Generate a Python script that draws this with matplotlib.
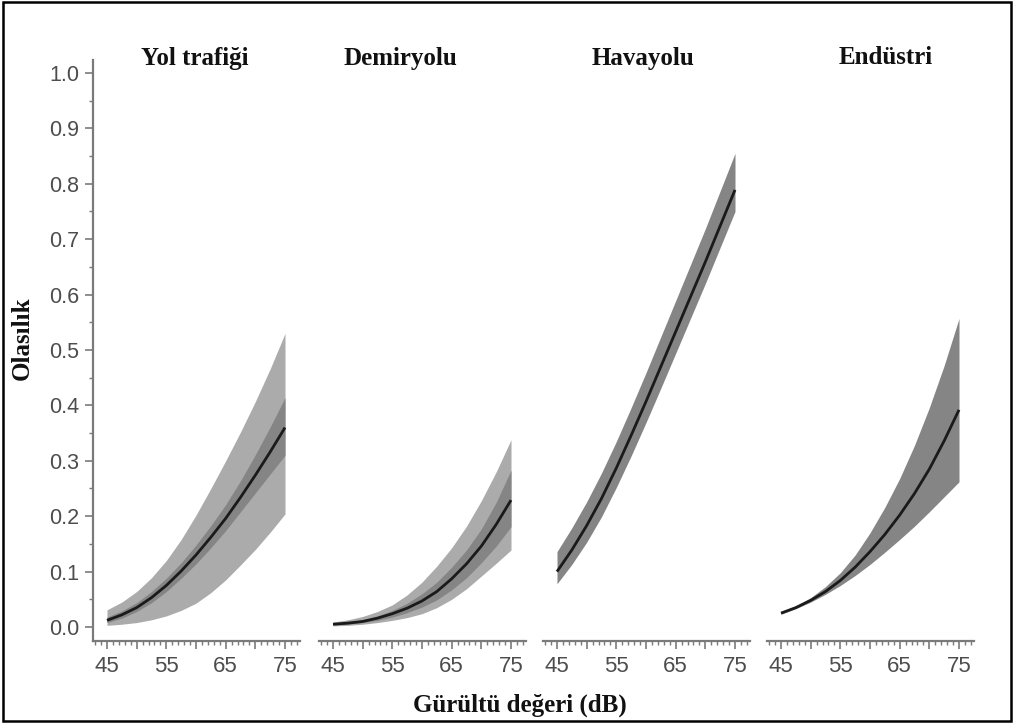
import matplotlib
matplotlib.use("Agg")
import matplotlib.pyplot as plt
from matplotlib.patches import Rectangle
from matplotlib.ticker import MultipleLocator, FixedLocator, FixedFormatter

# ---------------- data ----------------
titles = ["Yol trafiği", "Demiryolu", "Havayolu", "Endüstri"]
noise_db = [45, 47.5, 50, 52.5, 55, 57.5, 60, 62.5, 65, 67.5, 70, 72.5, 75]

# Yol trafiği
road_mean = [0.012, 0.022, 0.035, 0.053, 0.075, 0.101, 0.130, 0.162, 0.196, 0.234, 0.274, 0.316, 0.360]
road_in_lo = [0.008, 0.016, 0.028, 0.044, 0.064, 0.088, 0.114, 0.143, 0.174, 0.208, 0.242, 0.276, 0.310]
road_in_hi = [0.018, 0.029, 0.044, 0.064, 0.088, 0.116, 0.148, 0.183, 0.221, 0.264, 0.311, 0.361, 0.414]
road_out_lo = [0.003, 0.005, 0.008, 0.013, 0.020, 0.030, 0.043, 0.062, 0.085, 0.112, 0.140, 0.171, 0.204]
road_out_hi = [0.031, 0.045, 0.064, 0.089, 0.120, 0.158, 0.202, 0.250, 0.300, 0.352, 0.407, 0.466, 0.530]

# Demiryolu
rail_mean = [0.005, 0.007, 0.010, 0.016, 0.024, 0.034, 0.047, 0.064, 0.087, 0.114, 0.146, 0.185, 0.229]
rail_in_lo = [0.004, 0.005, 0.008, 0.012, 0.018, 0.026, 0.036, 0.049, 0.067, 0.089, 0.116, 0.146, 0.181]
rail_in_hi = [0.006, 0.009, 0.013, 0.020, 0.030, 0.043, 0.060, 0.081, 0.108, 0.139, 0.177, 0.225, 0.283]
rail_out_lo = [0.002, 0.003, 0.005, 0.008, 0.012, 0.017, 0.024, 0.035, 0.050, 0.069, 0.092, 0.115, 0.139]
rail_out_hi = [0.009, 0.013, 0.019, 0.028, 0.040, 0.058, 0.081, 0.110, 0.143, 0.182, 0.228, 0.280, 0.338]

# Havayolu
air_mean = [0.100, 0.139, 0.183, 0.232, 0.287, 0.346, 0.407, 0.470, 0.533, 0.596, 0.659, 0.724, 0.789]
air_lo = [0.078, 0.113, 0.153, 0.199, 0.252, 0.309, 0.369, 0.431, 0.494, 0.557, 0.620, 0.685, 0.750]
air_hi = [0.136, 0.179, 0.226, 0.278, 0.335, 0.396, 0.459, 0.524, 0.589, 0.654, 0.719, 0.787, 0.855]

# Endüstri
ind_mean = [0.025, 0.035, 0.048, 0.064, 0.084, 0.108, 0.136, 0.167, 0.202, 0.241, 0.285, 0.336, 0.392]
ind_lo = [0.023, 0.033, 0.045, 0.059, 0.075, 0.093, 0.113, 0.135, 0.158, 0.182, 0.208, 0.235, 0.262]
ind_hi = [0.027, 0.038, 0.053, 0.073, 0.098, 0.130, 0.170, 0.216, 0.268, 0.328, 0.396, 0.472, 0.557]

y_ticks = [0.0, 0.1, 0.2, 0.3, 0.4, 0.5, 0.6, 0.7, 0.8, 0.9, 1.0]
x_major = [45, 50, 55, 60, 65, 70, 75]
x_labels = ["45", "", "55", "", "65", "", "75"]

# ---------------- styling ----------------
W, H = 1020, 724
fig = plt.figure(figsize=(W / 100, H / 100), dpi=100)
fig.patch.set_facecolor("white")

AX_GRAY = "#7a7a7a"
TXT_GRAY = "#4d4d4d"
LIGHT = "#ababab"
DARK = "#858585"
SERIF = ["Liberation Serif", "DejaVu Serif"]
SANS = ["Liberation Sans", "DejaVu Sans"]

lefts_px = [93, 319, 543, 767]
ax_w_px = 207
top_px, bot_px = 60, 641
y0_px = 627  # pixel of y = 0
px_per_unit = 554.0
ylim_lo = -(bot_px - y0_px) / px_per_unit
ylim_hi = (y0_px - top_px) / px_per_unit
px_per_db = 178.0 / 30.0
xlim_lo = 45 - 14 / px_per_db
xlim_hi = 75 + 15 / px_per_db

panels = [
    dict(mean=road_mean, outer=(road_out_lo, road_out_hi), inner=(road_in_lo, road_in_hi)),
    dict(mean=rail_mean, outer=(rail_out_lo, rail_out_hi), inner=(rail_in_lo, rail_in_hi)),
    dict(mean=air_mean, outer=None, inner=(air_lo, air_hi)),
    dict(mean=ind_mean, outer=None, inner=(ind_lo, ind_hi)),
]

for i, (lp, p) in enumerate(zip(lefts_px, panels)):
    ax = fig.add_axes([lp / W, 1 - bot_px / H, ax_w_px / W, (bot_px - top_px) / H])
    ax.set_xlim(xlim_lo, xlim_hi)
    ax.set_ylim(ylim_lo, ylim_hi)
    ax.patch.set_alpha(0)

    if p["outer"] is not None:
        ax.fill_between(noise_db, p["outer"][0], p["outer"][1], color=LIGHT, lw=0)
    ax.fill_between(noise_db, p["inner"][0], p["inner"][1], color=DARK, lw=0)
    ax.plot(noise_db, p["mean"], color="#1a1a1a", lw=2.0, solid_capstyle="butt")

    for s in ["top", "right"]:
        ax.spines[s].set_visible(False)
    ax.spines["bottom"].set_color(AX_GRAY)
    ax.spines["bottom"].set_linewidth(1.6)
    ax.xaxis.set_major_locator(FixedLocator(x_major))
    ax.xaxis.set_major_formatter(FixedFormatter(x_labels))
    ax.xaxis.set_minor_locator(MultipleLocator(1))
    ax.tick_params(axis="x", which="major", length=6, width=1.2, color=AX_GRAY,
                   labelsize=16, labelcolor=TXT_GRAY, pad=5)
    ax.tick_params(axis="x", which="minor", length=3, width=1.0, color=AX_GRAY)
    for lab in ax.get_xticklabels():
        lab.set_fontfamily(SANS)

    if i == 0:
        ax.spines["left"].set_color(AX_GRAY)
        ax.spines["left"].set_linewidth(1.6)
        ax.set_yticks(y_ticks)
        ax.set_yticklabels([f"{v:.1f}" for v in y_ticks])
        ax.yaxis.set_minor_locator(MultipleLocator(0.05))
        ax.tick_params(axis="y", which="major", length=6, width=1.2, color=AX_GRAY,
                       labelsize=15.5, labelcolor=TXT_GRAY, pad=4)
        ax.tick_params(axis="y", which="minor", length=3, width=1.0, color=AX_GRAY)
        for lab in ax.get_yticklabels():
            lab.set_fontfamily(SANS)
    else:
        ax.spines["left"].set_visible(False)
        ax.set_yticks([])

title_x_px = [195, 400, 643, 886]
for t, xp in zip(titles, title_x_px):
    fig.text(xp / W, 1 - 58 / H, t, ha="center", va="center", fontsize=18,
             fontweight="bold", family=SERIF, color="#111111")

fig.text(22 / W, 1 - 338 / H, "Olasılık", rotation=90, ha="center", va="center",
         fontsize=18, fontweight="bold", family=SERIF, color="#111111")
fig.text(520 / W, 1 - 705 / H, "Gürültü değeri (dB)", ha="center", va="center",
         fontsize=18, fontweight="bold", family=SERIF, color="#111111")

fig.patches.append(Rectangle((3 / W, 1 - 721 / H), 1008 / W, 719 / H,
                             transform=fig.transFigure, fill=False,
                             edgecolor="black", lw=1.8))

fig.savefig("out.png", dpi=100, facecolor="white")
